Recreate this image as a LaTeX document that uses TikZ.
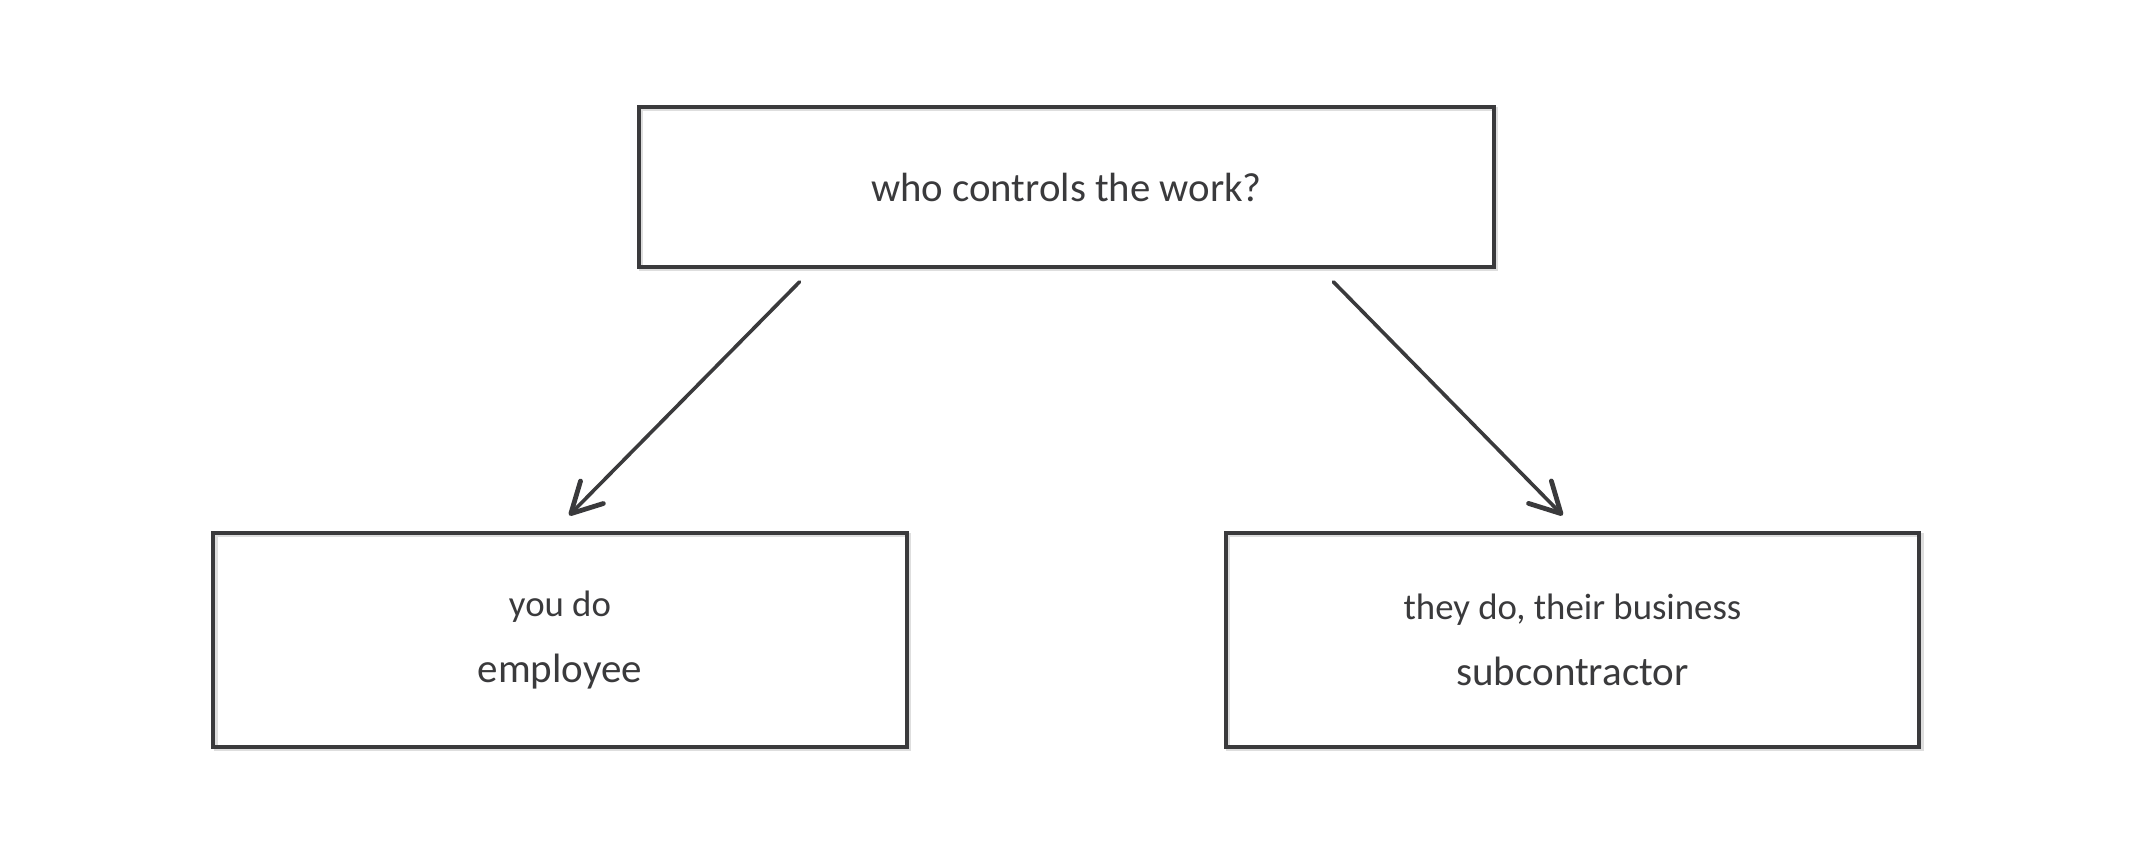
\documentclass[tikz,border=0pt]{standalone}
\usepackage{fontspec}
\setmainfont{Carlito}
\usetikzlibrary{arrows.meta,calc}
\definecolor{ink}{HTML}{3A3A3C}
\tikzset{
    box/.style={draw=ink, line width=2pt, minimum width=#1, inner sep=0pt, text=ink, align=center,
        preaction={draw=black!13, line width=2pt, transform canvas={shift={(1.2pt,-1.2pt)}}}},
    arr/.style={draw=ink, line width=1.8pt, line cap=round,
        -{Straight Barb[length=15pt, width=16pt, line width=2.4pt, round]}, shorten <=9pt, shorten >=11pt},
}
\begin{document}
                \begin{tikzpicture}[x=0.5pt, y=-0.5pt]
                    \useasboundingbox (0,0) rectangle (2133,853);
                    % Draw the question box on top
                    \node[box=427.5pt, minimum height=80pt, font=\fontsize{20.4}{24}\selectfont] 
                    (question) at (1066.5,187) {who controls the work?};
                    % Draw the two answer boxes below
                    \node[box=346.7pt, minimum height=107pt, font=\fontsize{18.4}{21}\selectfont] 
                    (employee) at (560,640) {you do\\[12pt] {\fontsize{20.5}{23}\selectfont employee}};
                    \node[box=346.7pt, minimum height=107pt, font=\fontsize{18.4}{21}\selectfont] 
                    (subcontractor) at (1572.5,640) {they do, their business\\[12pt] {\fontsize{20.5}{23}\selectfont subcontractor}};
    
                    % Draw an arrow from the question to each answer
                    \draw[arr] ($(question.south west)!0.204!(question.south east)$) -- 
                    ($(employee.north west)!0.491!(employee.north east)$);
                    \draw[arr] ($(question.south west)!0.796!(question.south east)$) -- 
                    ($(subcontractor.north west)!0.508!(subcontractor.north east)$);
                \end{tikzpicture}
\end{document}
